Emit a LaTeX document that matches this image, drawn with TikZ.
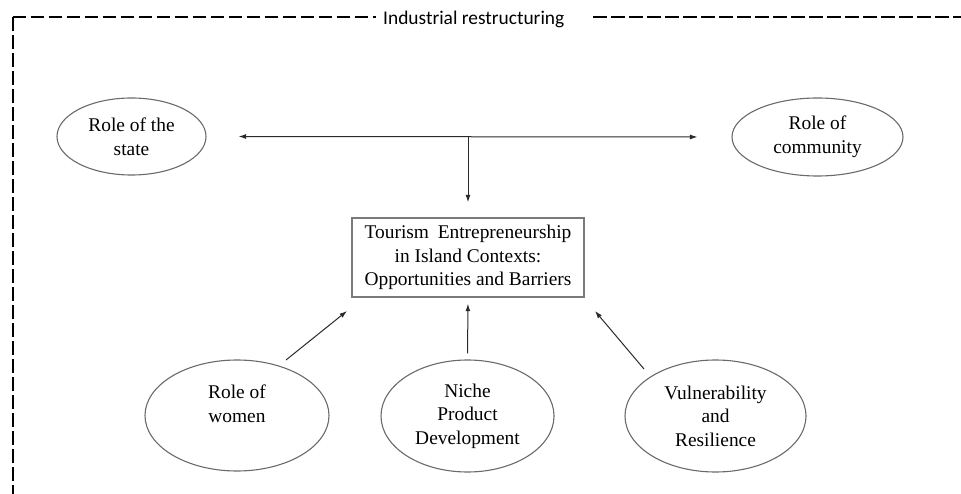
\documentclass[tikz,border=0pt]{standalone}
\usepackage{fontspec}
\setmainfont{Liberation Serif}
\newfontfamily\calibfont{Carlito}
\usetikzlibrary{shapes.geometric,arrows.meta}
\definecolor{shapegray}{HTML}{6A6A6A}
\definecolor{boxgray}{HTML}{7A7A7A}
\definecolor{arrowgray}{HTML}{2A2A2A}
\begin{document}
\begin{tikzpicture}[x=1pt,y=-1pt,
  oval/.style={ellipse,draw=shapegray,line width=1.1pt,inner sep=0pt,align=center,font=\fontsize{19.4}{23.6}\selectfont},
  mainbox/.style={rectangle,draw=boxgray,line width=1.4pt,minimum width=232pt,minimum height=79pt,inner sep=0pt,align=center,font=\fontsize{19.4}{23.6}\selectfont},
  conn/.style={draw=arrowgray,line width=1pt,-{Latex[length=7.5pt,width=5pt]}},
  frame/.style={draw=black,line width=1.6pt,dash pattern=on 13.5pt off 4.5pt},
  titletext/.style={font=\calibfont\fontsize{19.4}{23}\selectfont,anchor=base west,inner sep=0pt}
]
\useasboundingbox (0,0) rectangle (961,494);

% frame
\coordinate (corner) at (12.7,17.3);
\coordinate (frameBottom) at (12.7,494);
\coordinate (frameLeftEnd) at (376,17.3);
\coordinate (frameRightStart) at (593,17.3);
\coordinate (frameRightEnd) at (961,17.3);
\draw[frame] (corner) -- (frameBottom);
\draw[frame] (corner) -- (frameLeftEnd);
\draw[frame] (frameRightStart) -- (frameRightEnd);
\node[titletext] (title) at (383,25) {Industrial restructuring};

% nodes
\node[oval,minimum width=149pt,minimum height=77pt] (state) at (131.5,136.5) {Role of the\\state};
\node[oval,minimum width=171pt,minimum height=78pt] (comm) at (817.5,137) {Role of\\community};
\node[mainbox] (box) at (468,257.5) {Tourism\hspace{0.45em}Entrepreneurship\\in Island Contexts:\\Opportunities and Barriers};
\node[oval,minimum width=184pt,minimum height=111pt] (women) at (237,415.5) {Role of\\women\\\mbox{}};
\node[oval,minimum width=173pt,minimum height=112pt] (niche) at (467.5,416) {Niche\\Product\\Development};
\node[oval,minimum width=181pt,minimum height=112pt] (vuln) at (715.5,416) {Vulnerability\\and\\Resilience};

% connectors
\draw[conn,{Latex[length=7.5pt,width=5pt]}-{Latex[length=7.5pt,width=5pt]},shorten <=32pt,shorten >=34pt] (state.east) -- (comm.west);
\coordinate (hub) at (468,137);
\draw[conn,shorten >=15pt] (hub) -- (box.north);
\draw[conn,shorten <=6pt,shorten >=6pt] (niche.north) -- (box.south);
\coordinate (wS) at (286,360);
\coordinate (wE) at (347,311);
\draw[conn] (wS) -- (wE);
\coordinate (vS) at (644,369);
\coordinate (vE) at (595,311);
\draw[conn] (vS) -- (vE);
\end{tikzpicture}
\end{document}
